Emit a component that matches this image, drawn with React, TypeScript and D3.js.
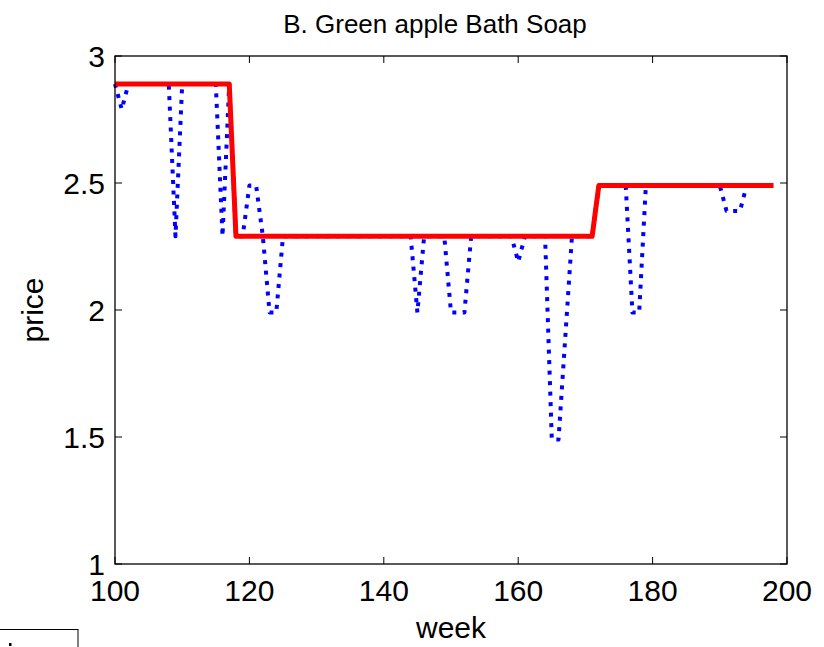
import React from "react";
import * as d3 from "d3";

const weeks: number[] = d3.range(100, 199);
// observed weekly price (blue dotted), weeks 100..198
const observedPrice: number[] = [
  2.89, 2.79, 2.89, 2.89, 2.89, 2.89, 2.89, 2.89, 2.89, 2.29, // 100-109
  2.89, 2.89, 2.89, 2.89, 2.89, 2.89, 2.29, 2.89, 2.29, 2.29, // 110-119
  2.49, 2.49, 2.29, 1.99, 1.99, 2.29, 2.29, 2.29, 2.29, 2.29, // 120-129
  2.29, 2.29, 2.29, 2.29, 2.29, 2.29, 2.29, 2.29, 2.29, 2.29, // 130-139
  2.29, 2.29, 2.29, 2.29, 2.29, 1.99, 2.29, 2.29, 2.29, 2.29, // 140-149
  1.99, 1.99, 1.99, 2.29, 2.29, 2.29, 2.29, 2.29, 2.29, 2.29, // 150-159
  2.19, 2.29, 2.29, 2.29, 2.29, 1.49, 1.49, 1.89, 2.29, 2.29, // 160-169
  2.29, 2.29, 2.49, 2.49, 2.49, 2.49, 2.49, 1.99, 1.99, 2.49, // 170-179
  2.49, 2.49, 2.49, 2.49, 2.49, 2.49, 2.49, 2.49, 2.49, 2.49, // 180-189
  2.49, 2.39, 2.39, 2.39, 2.49, 2.49, 2.49, 2.49, 2.49,       // 190-198
];
// regular (step) price, red line
const regularWeeks: number[] = [100, 117, 118, 171, 172, 198];
const regularPrice: number[] = [2.89, 2.89, 2.29, 2.29, 2.49, 2.49];

const xTicks: number[] = [100, 120, 140, 160, 180, 200];
const yTicks: number[] = [1, 1.5, 2, 2.5, 3];

const W = 824;
const H = 647;
const left = 115, right = 787, top = 56, bottom = 564;

export default function App() {
  const x = d3.scaleLinear().domain([100, 200]).range([left, right]);
  const y = d3.scaleLinear().domain([1, 3]).range([bottom, top]);

  const obs = weeks.map((w, i) => [w, observedPrice[i]] as [number, number]);
  const reg = regularWeeks.map((w, i) => [w, regularPrice[i]] as [number, number]);
  const line = d3
    .line<[number, number]>()
    .x((d) => x(d[0]))
    .y((d) => y(d[1]));

  const font = "Liberation Sans, Arial, Helvetica, sans-serif";
  const tl = 7;

  return (
    <svg
      width={W}
      height={H}
      style={{ position: "absolute", left: 0, top: 0, background: "#fff" }}
      fontFamily={font}
    >
      <rect x={0} y={0} width={W} height={H} fill="#fff" />
      {/* data */}
      <path
        d={line(obs) || ""}
        fill="none"
        stroke="#0000ff"
        strokeWidth={4}
        strokeDasharray="4 6.5"
        strokeLinejoin="round"
      />
      <path
        d={line(reg) || ""}
        fill="none"
        stroke="#ff0000"
        strokeWidth={5}
        strokeLinejoin="round"
      />
      {/* axes box */}
      <rect
        x={left}
        y={top}
        width={right - left}
        height={bottom - top}
        fill="none"
        stroke="#000"
        strokeWidth={1.3}
      />
      {xTicks.map((t) => (
        <g key={"x" + t}>
          <line x1={x(t)} x2={x(t)} y1={bottom} y2={bottom - tl} stroke="#000" strokeWidth={1} />
          <line x1={x(t)} x2={x(t)} y1={top} y2={top + tl} stroke="#000" strokeWidth={1} />
          <text x={x(t)} y={601} fontSize={30} textAnchor="middle" fill="#000">
            {t}
          </text>
        </g>
      ))}
      {yTicks.map((t) => (
        <g key={"y" + t}>
          <line x1={left} x2={left + tl} y1={y(t)} y2={y(t)} stroke="#000" strokeWidth={1} />
          <line x1={right} x2={right - tl} y1={y(t)} y2={y(t)} stroke="#000" strokeWidth={1} />
          <text x={105} y={y(t) + 11} fontSize={30} textAnchor="end" fill="#000">
            {t}
          </text>
        </g>
      ))}
      <text x={451} y={638} fontSize={30} textAnchor="middle" fill="#000">
        week
      </text>
      <text
        transform={`translate(43,310) rotate(-90)`}
        fontSize={30}
        textAnchor="middle"
        fill="#000"
      >
        price
      </text>
      <text x={435} y={33} fontSize={26} textAnchor="middle" fill="#000">
        B. Green apple Bath Soap
      </text>
      {/* partially visible legend box */}
      <rect x={-1} y={629.5} width={79} height={30} fill="#fff" stroke="#000" strokeWidth={1} />
      <rect x={9} y={643} width={2.5} height={3} fill="#000" />
    </svg>
  );
}
